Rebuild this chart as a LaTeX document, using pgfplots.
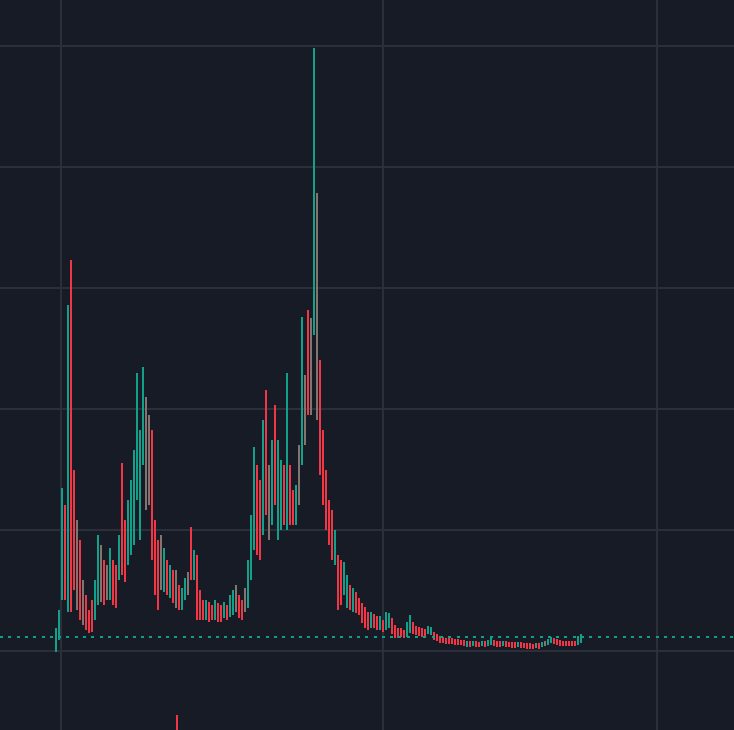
\documentclass[border=0pt]{standalone}
\usepackage{pgfplots}
\usepackage{pgfplotstable}
\pgfplotsset{compat=1.18}
\definecolor{bgc}{RGB}{23,27,37}
\definecolor{gridc}{RGB}{43,47,58}
\definecolor{upc}{RGB}{18,160,138}
\definecolor{dnc}{RGB}{242,54,69}
\definecolor{mixc}{RGB}{132,116,112}
% columns: x, wick top, wick bottom, body top, body bottom (chart rows, downward)
\pgfplotstableread{
x wt wb bt bb
56 628 652 632 650
59 610 640 615 636
62 488 600 492 590
68 305 612 310 540
95 580 620 588 615
98 535 605 540 600
110 548 600 555 590
119 535 580 540 575
128 500 565 505 560
131 480 555 485 548
134 450 545 470 540
137 373 500 400 493
140 430 540 447 520
143 367 465 380 460
164 548 592 555 588
170 565 598 570 592
182 588 610 592 605
185 578 600 582 598
194 550 580 555 575
206 600 620 605 617
215 600 620 605 616
224 602 618 605 615
230 595 617 600 613
233 590 615 595 610
248 560 608 570 605
251 515 580 530 575
254 447 550 480 540
263 420 535 430 525
272 440 525 445 520
278 440 540 450 530
281 460 530 465 520
287 373 530 450 525
296 485 525 490 518
302 317 465 377 460
314 48 335 283 330
335 530 565 537 560
344 562 595 565 592
347 575 608 580 603
353 588 612 592 608
371 612 628 615 625
380 616 630 619 627
386 612 630 615 627
389 613 628 616 624
407 622 637 625 635
410 615 633 618 630
428 626 634 628 633
431 627 635 629 633
467 641 647 642 646
473 641 646 642 645
482 641 646 642 645
488 640 646 642 645
491 638 645 640 644
503 641 646 642 645
518 642 647 643 646
542 642 647 643 646
548 639 645 640 644
551 637 643 638 642
578 636 645 638 644
581 634 643 636 642
}\updata
\pgfplotstableread{
x wt wb bt bb
77 520 610 527 600
83 580 625 590 620
101 545 602 550 595
107 565 600 570 590
146 397 510 400 500
149 415 505 420 500
161 535 590 543 585
176 570 608 578 603
188 572 595 576 592
236 585 612 590 608
245 588 612 592 608
269 465 540 475 535
299 445 505 450 500
305 375 445 380 440
311 318 415 325 410
317 193 420 290 415
536 643 648 644 647
545 641 646 642 645
}\mixdata
\pgfplotstableread{
x wt wb bt bb
65 505 600 520 585
71 260 612 437 600
74 470 590 483 580
80 540 620 550 615
86 595 630 600 627
89 610 633 615 630
92 600 632 605 625
104 560 605 565 598
113 560 605 565 600
116 565 608 575 603
122 463 575 530 570
125 520 582 527 578
152 430 560 490 555
155 520 595 540 590
158 540 610 545 600
167 560 595 565 590
173 570 603 575 600
177 715 740 715 715
179 585 610 590 607
191 527 580 545 575
197 555 620 565 605
200 590 620 595 615
203 600 620 603 615
209 602 622 606 618
212 605 620 608 617
218 603 622 607 618
221 605 622 608 618
227 605 620 607 616
239 595 618 600 615
242 600 620 603 615
257 465 555 470 548
260 480 560 490 555
266 390 515 420 505
275 405 505 415 500
284 465 525 475 520
290 465 525 475 520
293 490 525 495 520
308 310 415 320 410
320 360 475 367 470
323 430 505 437 503
326 470 530 480 528
329 500 545 505 540
332 510 560 515 558
338 555 610 560 600
341 560 605 565 595
350 585 610 590 607
356 592 613 596 610
359 598 615 601 613
362 603 623 606 620
365 607 628 610 625
368 612 630 615 627
374 614 628 617 625
377 616 630 619 628
383 620 632 622 630
392 618 634 620 632
395 625 638 627 636
398 628 638 630 636
401 628 637 630 635
404 630 638 632 636
413 622 634 624 632
416 626 635 628 633
419 627 636 629 634
422 628 637 630 635
425 629 636 631 635
434 632 640 634 638
437 634 641 636 640
440 636 643 638 642
443 637 643 639 642
446 638 644 640 643
449 638 644 640 643
452 638 644 640 643
455 639 645 640 643
458 639 645 641 644
461 640 645 641 644
464 640 646 642 645
470 641 647 642 646
476 641 647 643 646
479 642 647 643 646
485 641 647 643 646
494 640 646 641 645
497 641 647 642 646
500 641 647 643 646
506 641 647 643 646
509 642 647 643 646
512 642 648 644 647
515 642 648 644 647
521 642 648 644 647
524 643 648 644 647
527 643 649 645 648
530 643 649 645 648
533 644 649 645 648
539 643 649 645 648
554 638 644 639 643
557 639 645 640 644
560 640 646 641 645
563 641 646 642 645
566 641 646 642 645
569 641 646 642 645
572 641 646 642 645
575 641 646 642 645
}\dndata
\pgfplotsset{
  wick/.style={draw=none, mark=none, forget plot,
    error bars/.cd, y dir=both, y explicit, error mark=none,
    error bar style={draw=#1, line width=1.2bp}},
  body/.style={draw=none, mark=none, forget plot,
    error bars/.cd, y dir=both, y explicit, error mark=none,
    error bar style={draw=#1, line width=2.8bp}},
}
\begin{document}
\begin{tikzpicture}
\begin{axis}[
  at={(0,0)}, anchor=south west,
  width=734bp, height=730bp, scale only axis,
  xmin=0, xmax=734, ymin=0, ymax=730, y dir=reverse,
  axis background/.style={fill=bgc},
  axis line style={draw=none},
  xtick={61,383,657}, ytick={46,167,288,409,530,651},
  xticklabels={}, yticklabels={},
  tick label style={inner sep=0pt, outer sep=0pt},
  major tick length=0pt,
  grid=major, grid style={draw=gridc, line width=2bp},
  clip=true,
]
\addplot[wick=mixc] table[x=x, y expr={(\thisrow{wt}+\thisrow{wb})/2}, y error expr={(\thisrow{wb}-\thisrow{wt})/2}] {\mixdata};
\addplot[body=mixc] table[x=x, y expr={(\thisrow{bt}+\thisrow{bb})/2}, y error expr={(\thisrow{bb}-\thisrow{bt})/2}] {\mixdata};
\addplot[wick=dnc] table[x=x, y expr={(\thisrow{wt}+\thisrow{wb})/2}, y error expr={(\thisrow{wb}-\thisrow{wt})/2}] {\dndata};
\addplot[body=dnc] table[x=x, y expr={(\thisrow{bt}+\thisrow{bb})/2}, y error expr={(\thisrow{bb}-\thisrow{bt})/2}] {\dndata};
\addplot[wick=upc] table[x=x, y expr={(\thisrow{wt}+\thisrow{wb})/2}, y error expr={(\thisrow{wb}-\thisrow{wt})/2}] {\updata};
\addplot[body=upc] table[x=x, y expr={(\thisrow{bt}+\thisrow{bb})/2}, y error expr={(\thisrow{bb}-\thisrow{bt})/2}] {\updata};
\addplot[upc, line width=2.5bp, dash pattern=on 3bp off 5.3bp, forget plot] coordinates {(0,637) (734,637)};
\end{axis}
\pgfresetboundingbox
\useasboundingbox (0,0) rectangle (734bp,730bp);
\end{tikzpicture}
\end{document}
